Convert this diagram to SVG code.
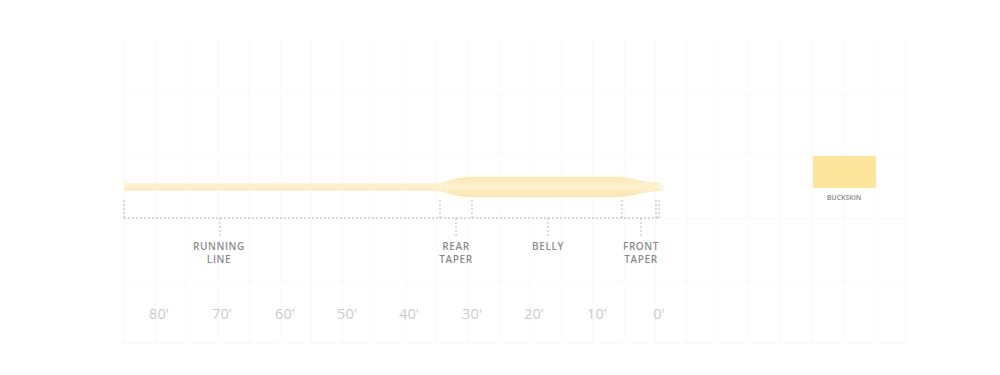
<svg xmlns="http://www.w3.org/2000/svg" width="1000" height="375" viewBox="0 0 1000 375">
<style>
.grid line{stroke:#f8f8f8;stroke-width:1}
.dot{stroke:#b8b8b8;stroke-width:1;stroke-dasharray:2,2;fill:none}
.lbl{font-family:"Open Sans","Liberation Sans",sans-serif;font-size:10px;fill:#8c8c8c;text-anchor:middle;letter-spacing:0.6px;font-weight:600}
.ax{font-family:"Open Sans","Liberation Sans",sans-serif;font-size:14.5px;fill:#cbcbcb;text-anchor:middle}
.leg{font-family:"Open Sans","Liberation Sans",sans-serif;font-size:7px;fill:#8a8a8a;text-anchor:middle;font-weight:600}
</style>
<defs>
<linearGradient id="lg" x1="0" y1="0" x2="0" y2="1">
<stop offset="0" stop-color="#fde7b0"/>
<stop offset="0.45" stop-color="#fef2d0"/>
<stop offset="1" stop-color="#fde6ad"/>
</linearGradient>
</defs>
<rect width="1000" height="375" fill="#ffffff"/>
<g class="grid">
<line x1="124" y1="40" x2="124" y2="345"/><line x1="155.3" y1="40" x2="155.3" y2="345"/><line x1="186.5" y1="40" x2="186.5" y2="345"/><line x1="217.8" y1="40" x2="217.8" y2="345"/><line x1="249" y1="40" x2="249" y2="345"/><line x1="280.3" y1="40" x2="280.3" y2="345"/><line x1="311.6" y1="40" x2="311.6" y2="345"/><line x1="342.8" y1="40" x2="342.8" y2="345"/><line x1="374.1" y1="40" x2="374.1" y2="345"/><line x1="405.4" y1="40" x2="405.4" y2="345"/><line x1="436.6" y1="40" x2="436.6" y2="345"/><line x1="467.9" y1="40" x2="467.9" y2="345"/><line x1="499.1" y1="40" x2="499.1" y2="345"/><line x1="530.4" y1="40" x2="530.4" y2="345"/><line x1="561.7" y1="40" x2="561.7" y2="345"/><line x1="592.9" y1="40" x2="592.9" y2="345"/><line x1="624.2" y1="40" x2="624.2" y2="345"/><line x1="655.5" y1="40" x2="655.5" y2="345"/><line x1="686.7" y1="40" x2="686.7" y2="345"/><line x1="718" y1="40" x2="718" y2="345"/><line x1="749.2" y1="40" x2="749.2" y2="345"/><line x1="780.5" y1="40" x2="780.5" y2="345"/><line x1="811.8" y1="40" x2="811.8" y2="345"/><line x1="843" y1="40" x2="843" y2="345"/><line x1="874.3" y1="40" x2="874.3" y2="345"/><line x1="905.6" y1="40" x2="905.6" y2="345"/>
<line x1="120" y1="93" x2="906" y2="93"/><line x1="120" y1="155" x2="906" y2="155"/><line x1="120" y1="218" x2="906" y2="218"/><line x1="120" y1="281" x2="906" y2="281"/><line x1="120" y1="343" x2="906" y2="343"/>
</g>
<g id="flyline">
<path d="M124,183.3 L440,183.3 C452,178.5 462,177 472,177 L622,177 C640,180 650,182.5 660,183.2 A3.9,3.9 0 0 1 660,191 C650,191.6 640,194 622,197 L472,197 C462,197 452,195.5 440,190.7 L124,190.7 Z" fill="url(#lg)"/>
<circle cx="661" cy="187.1" r="3" fill="#fff6df"/>
</g>
<g id="connectors">
<path class="dot" d="M124,200 V218 M440,200 V218 M472,200 V218 M622,200 V218 M656,200 V218 M659,200 V218 M124,218 H660"/>
<path class="dot" d="M220,218 V238 M456,218 V238 M548,218 V238 M641,218 V238"/>
</g>
<g id="running-line"><text class="lbl" x="219" y="250">RUNNING</text><text class="lbl" x="219" y="263">LINE</text></g>
<g id="rear-taper"><text class="lbl" x="456" y="250">REAR</text><text class="lbl" x="456" y="263">TAPER</text></g>
<g id="belly"><text class="lbl" x="548" y="250">BELLY</text></g>
<g id="front-taper"><text class="lbl" x="641" y="250">FRONT</text><text class="lbl" x="641" y="263">TAPER</text></g>
<g id="axis">
<text class="ax" x="159" y="319">80'</text><text class="ax" x="222" y="319">70'</text><text class="ax" x="285" y="319">60'</text><text class="ax" x="347" y="319">50'</text><text class="ax" x="409" y="319">40'</text><text class="ax" x="472" y="319">30'</text><text class="ax" x="534" y="319">20'</text><text class="ax" x="597" y="319">10'</text><text class="ax" x="659" y="319">0'</text>
</g>
<g id="legend">
<rect x="813" y="156" width="63" height="32" fill="#fee59c"/>
<text class="leg" x="844" y="200">BUCKSKIN</text>
</g>
</svg>
